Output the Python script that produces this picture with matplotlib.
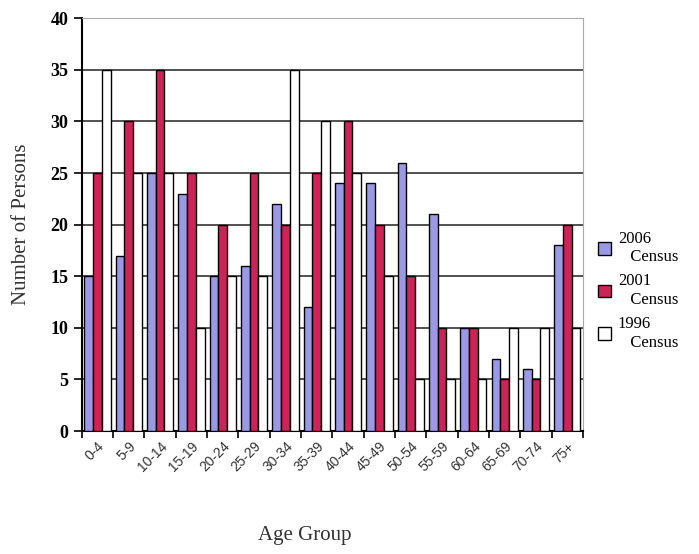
import numpy as np
import matplotlib.pyplot as plt

groups = ['0-4', '5-9', '10-14', '15-19', '20-24', '25-29', '30-34', '35-39',
          '40-44', '45-49', '50-54', '55-59', '60-64', '65-69', '70-74', '75+']
census_2006 = [15, 17, 25, 23, 15, 16, 22, 12, 24, 24, 26, 21, 10, 7, 6, 18]
census_2001 = [25, 30, 35, 25, 20, 25, 20, 25, 30, 20, 15, 10, 10, 5, 5, 20]
census_1996 = [35, 25, 25, 10, 15, 15, 35, 30, 25, 15, 5, 5, 5, 10, 10, 10]
series_names = ['2006\n   Census', '2001\n   Census', '1996\n   Census']

fig = plt.figure(figsize=(6.99, 5.54), dpi=100)
ax = fig.add_axes([0.117, 0.222, 0.717, 0.745])

x = np.arange(len(groups))
w = 0.28
ax.bar(x - w, census_2006, w, color='#9999E6', edgecolor='black', linewidth=1, label=series_names[0], zorder=3)
ax.bar(x, census_2001, w, color='#CC2458', edgecolor='black', linewidth=1, label=series_names[1], zorder=3)
ax.bar(x + w, census_1996, w, color='white', edgecolor='black', linewidth=1, label=series_names[2], zorder=3)

ax.set_xlim(-0.5, len(groups) - 0.5)
ax.set_ylim(0, 40)
ax.set_yticks(range(0, 41, 5))
ax.yaxis.grid(True, color='#333333', linewidth=1.2, zorder=0)

# ticks at group boundaries, labels centred on groups
ax.set_xticks(np.arange(len(groups) + 1) - 0.5)
ax.set_xticklabels([])
ax.set_xticks(x, minor=True)
ax.set_xticklabels(groups, minor=True, rotation=45, ha='right', rotation_mode='anchor',
                   fontsize=10, family='Liberation Sans', color='#333333')
ax.tick_params(axis='x', which='major', length=5, width=1.2, direction='out')
ax.tick_params(axis='x', which='minor', length=0, pad=6)
ax.tick_params(axis='y', length=6, width=1.2, direction='out')
for lab in ax.get_yticklabels():
    lab.set_fontfamily('Liberation Serif')
    lab.set_fontweight('bold')
    lab.set_fontsize(13)

ax.spines['left'].set_linewidth(1.5)
ax.spines['bottom'].set_linewidth(1.5)
ax.spines['top'].set_color('#aaaaaa')
ax.spines['right'].set_color('#aaaaaa')

ax.set_ylabel('Number of Persons', fontsize=15, family='Liberation Serif', color='#333333', labelpad=14)
fig.text(0.436, 0.025, 'Age Group', fontsize=15, family='Liberation Serif', color='#333333', ha='center')

ax.legend(loc='center left', bbox_to_anchor=(1.0, 0.34), frameon=False,
          prop={'family': 'Liberation Serif', 'size': 12}, handlelength=0.8,
          handleheight=0.8, handletextpad=0.4, labelspacing=0.5)

fig.savefig('out.png')
